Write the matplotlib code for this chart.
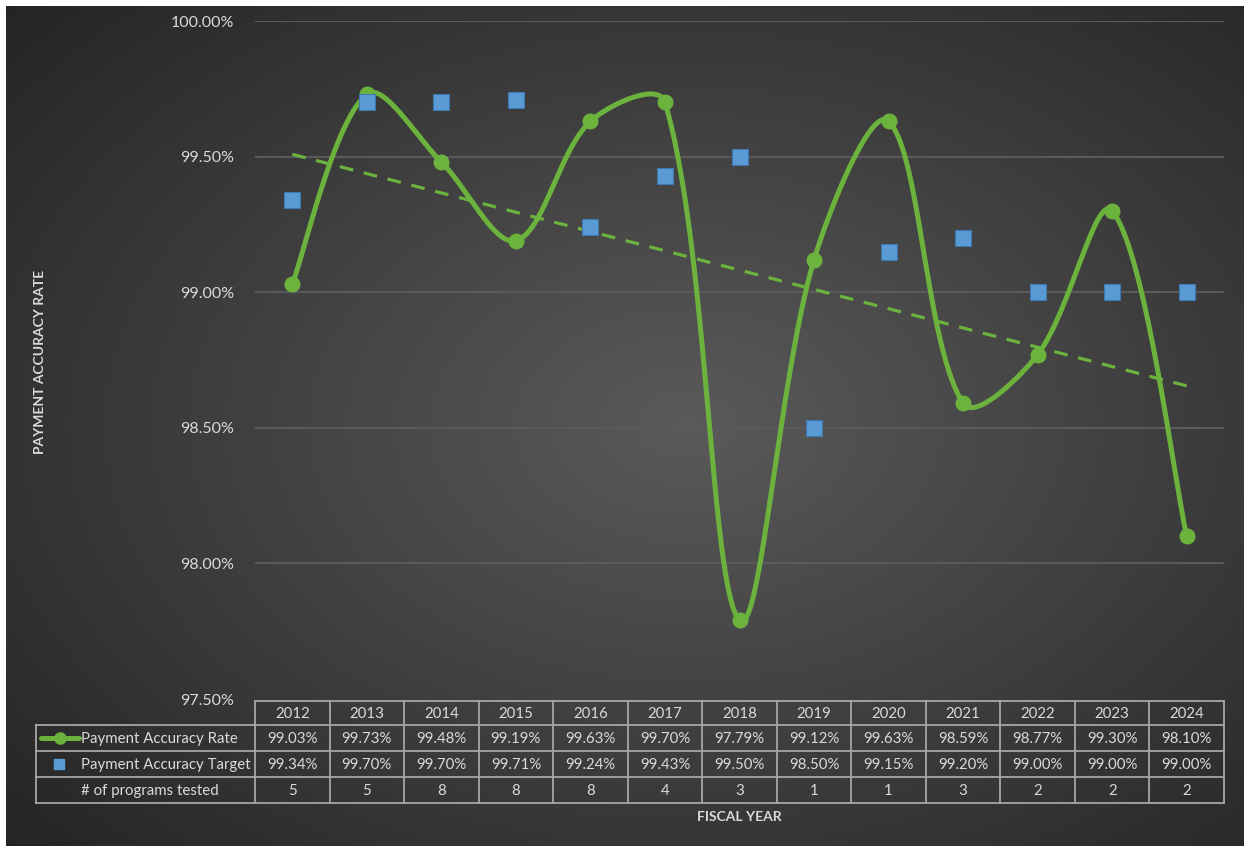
import numpy as np
import matplotlib
matplotlib.use("Agg")
import matplotlib.pyplot as plt
from matplotlib.transforms import blended_transform_factory
from matplotlib.lines import Line2D

years = ["2012", "2013", "2014", "2015", "2016", "2017", "2018",
         "2019", "2020", "2021", "2022", "2023", "2024"]
rate = [99.03, 99.73, 99.48, 99.19, 99.63, 99.70, 97.79,
        99.12, 99.63, 98.59, 98.77, 99.30, 98.10]
target = [99.34, 99.70, 99.70, 99.71, 99.24, 99.43, 99.50,
          98.50, 99.15, 99.20, 99.00, 99.00, 99.00]
programs = [5, 5, 8, 8, 8, 4, 3, 1, 1, 3, 2, 2, 2]
yticks = [97.5, 98.0, 98.5, 99.0, 99.5, 100.0]

W, H = 1244, 846
FONT = "Lato"
TXT = "#DADADA"
GREEN = "#6CB33E"
BLUE = "#5B9BD5"
GRID = "#5A5A5A"
TLINE = "#A6A6A6"

plt.rcParams["font.family"] = [FONT, "DejaVu Sans"]

fig = plt.figure(figsize=(W / 100, H / 100), dpi=100, facecolor="white")

def fx(px):
    return px / W

def fy(py):
    return 1 - py / H

# background panel with radial gradient
bg = fig.add_axes([fx(6), fy(846), fx(1244) - fx(6), fy(6) - fy(846)], zorder=-10)
gx, gy = np.meshgrid(np.linspace(0, 1, 400), np.linspace(0, 1, 300))
cx, cy = 0.55, 0.50
d = np.sqrt(((gx - cx) / 0.75) ** 2 + ((gy - cy) / 0.75) ** 2)
d = np.clip(d, 0, 1)
c0 = np.array([0x5A, 0x5A, 0x5A]) / 255
c1 = np.array([0x24, 0x24, 0x24]) / 255
img = c0[None, None, :] * (1 - d[..., None]) + c1[None, None, :] * d[..., None]
bg.imshow(img, aspect="auto", extent=[0, 1, 0, 1], origin="lower")
bg.set_axis_off()

# main axes
left, right, top, bottom = 255, 1224, 21, 699
ax = fig.add_axes([fx(left), fy(bottom), fx(right) - fx(left), fy(top) - fy(bottom)])
ax.set_facecolor("none")
n = len(years)
x = np.arange(n)
ax.set_xlim(-0.5, n - 0.5)
ax.set_ylim(97.5, 100.0)
ax.set_yticks(yticks)
ax.set_yticklabels([f"{v:.2f}%" for v in yticks], color=TXT, fontsize=11.5)
ax.tick_params(axis="y", length=0, pad=15)
ax.set_xticks([])
for s in ax.spines.values():
    s.set_visible(False)
for v in yticks[1:]:
    ax.axhline(v, color=GRID, lw=1.5, zorder=1)

# smoothed line: chord-weighted Bezier smoothing computed in screen space
xs_px = (right - left) / n          # px per category
ys_px = (bottom - top) / 2.5        # px per 1 percent
pts = np.column_stack([x * xs_px, np.array(rate) * ys_px]).astype(float)
m = len(pts)
cin = np.zeros_like(pts)
cout = np.zeros_like(pts)
for i in range(m):
    p_prev = pts[max(i - 1, 0)]
    p_next = pts[min(i + 1, m - 1)]
    T = p_next - p_prev
    d_prev = np.linalg.norm(pts[i] - p_prev)
    d_next = np.linalg.norm(p_next - pts[i])
    if i == 0 or i == m - 1:
        cin[i] = pts[i] - T / 6
        cout[i] = pts[i] + T / 6
        continue
    s = d_prev + d_next
    cin[i] = pts[i] - T * (d_prev / s) / 3
    cout[i] = pts[i] + T * (d_next / s) / 3
t = np.linspace(0, 1, 60)[:, None]
curve = []
for i in range(m - 1):
    p1, b1, b2, p2 = pts[i], cout[i], cin[i + 1], pts[i + 1]
    seg = (1 - t) ** 3 * p1 + 3 * (1 - t) ** 2 * t * b1 + 3 * (1 - t) * t ** 2 * b2 + t ** 3 * p2
    curve.append(seg)
curve = np.vstack(curve)
ax.plot(curve[:, 0] / xs_px, curve[:, 1] / ys_px, color=GREEN, lw=3.6, zorder=3,
        solid_capstyle="round", solid_joinstyle="round")
ax.plot(x, rate, "o", color=GREEN, ms=10.5, zorder=4)

# trend line
coef = np.polyfit(x, rate, 1)
ax.plot(x, np.polyval(coef, x), color=GREEN, lw=2.3, ls=(0, (4.3, 3.4)), zorder=2)

# target markers
ax.plot(x, target, "s", color=BLUE, mec="#3F78B0", mew=0.8, ms=11.5, zorder=5)

# axis titles
fig.text(fx(40), fy(362), "PAYMENT ACCURACY RATE", rotation=90, ha="center",
         va="center", color=TXT, fontsize=10, fontweight="bold")
fig.text(fx(739), fy(817), "FISCAL YEAR", ha="center", va="center",
         color=TXT, fontsize=10, fontweight="bold")

# data table
tr = blended_transform_factory(ax.transData, fig.transFigure)
rows_y = [701, 725, 751, 777, 803]
tbl_left = 36
lw_t = 1.3

def hline(x0px, x1px, ypx):
    fig.add_artist(Line2D([fx(x0px), fx(x1px)], [fy(ypx), fy(ypx)],
                          color=TLINE, lw=lw_t, transform=fig.transFigure))

def vline(xpx, y0px, y1px):
    fig.add_artist(Line2D([fx(xpx), fx(xpx)], [fy(y0px), fy(y1px)],
                          color=TLINE, lw=lw_t, transform=fig.transFigure))

hline(left, right, rows_y[0])
for ry in rows_y[1:]:
    hline(tbl_left, right, ry)
vline(tbl_left, rows_y[1], rows_y[4])
for i in range(n + 1):
    xb = -0.5 + i
    fig.add_artist(Line2D([xb, xb], [fy(rows_y[0]), fy(rows_y[4])], color=TLINE,
                          lw=lw_t, transform=tr))

row_vals = [years, [f"{v:.2f}%" for v in rate], [f"{v:.2f}%" for v in target],
            [str(v) for v in programs]]
for r in range(4):
    ymid = fy((rows_y[r] + rows_y[r + 1]) / 2 + 1)
    for i in range(n):
        fig.text(i, ymid, row_vals[r][i], transform=tr, ha="center", va="center",
                 color=TXT, fontsize=10.8)

labels = ["Payment Accuracy Rate", "Payment Accuracy Target", "# of programs tested"]
for r, lab in enumerate(labels):
    ymid = fy((rows_y[r + 1] + rows_y[r + 2]) / 2 + 1)
    fig.text(fx(81), ymid, lab, ha="left", va="center", color=TXT, fontsize=10.8)

# legend keys
ky = fy((rows_y[1] + rows_y[2]) / 2)
fig.add_artist(Line2D([fx(41), fx(79)], [ky, ky], color=GREEN, lw=3.6,
                      solid_capstyle="round", transform=fig.transFigure))
fig.add_artist(Line2D([fx(60)], [ky], marker="o", color=GREEN, ms=8,
                      transform=fig.transFigure))
ky2 = fy((rows_y[2] + rows_y[3]) / 2)
fig.add_artist(Line2D([fx(59)], [ky2], marker="s", color=BLUE, ms=7,
                      transform=fig.transFigure))

fig.savefig("out.png", dpi=100, facecolor="white")
